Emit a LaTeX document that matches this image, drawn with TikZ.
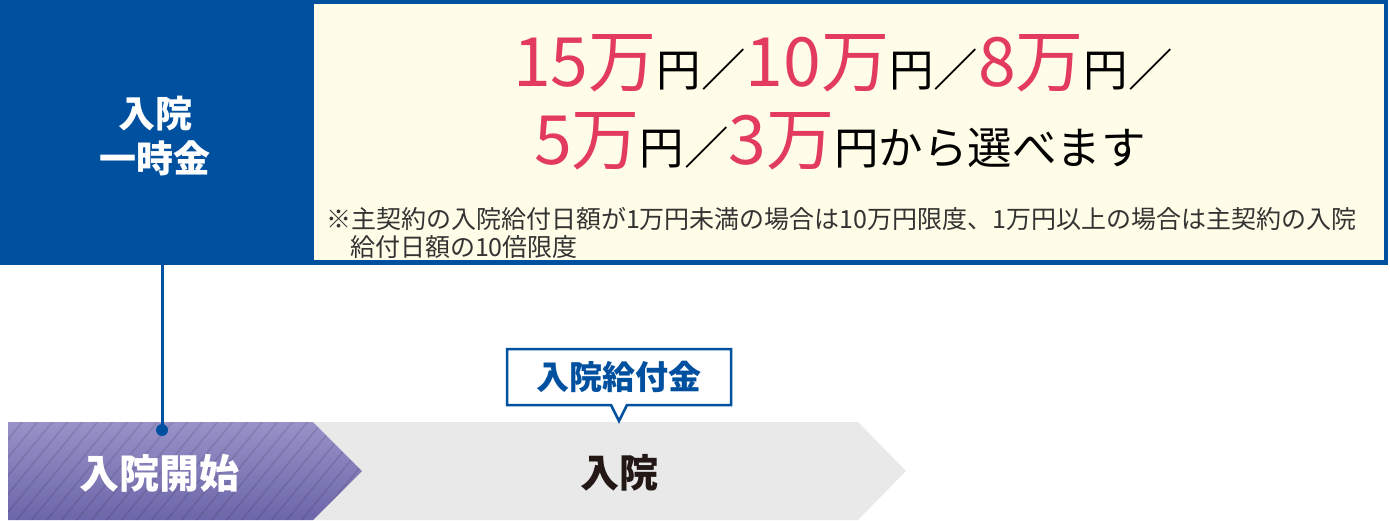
\documentclass[tikz,border=0pt]{standalone}
\usepackage{fontspec}
\setmainfont{Noto Sans CJK JP}
\usetikzlibrary{calc}
\definecolor{mainblue}{HTML}{0050A0}
\definecolor{pinkred}{HTML}{E23B5E}
\definecolor{paleyellow}{HTML}{FFFDE7}
\definecolor{arrowgray}{HTML}{E9E9E9}
\definecolor{purpletop}{HTML}{9792C7}
\definecolor{purplebot}{HTML}{6C66AA}
\definecolor{notegray}{HTML}{333333}
\definecolor{darktext}{HTML}{231815}
\newcommand\myPk[1]{{\color{pinkred}\fontsize{68}{68}\selectfont #1}}
\newcommand\mySm[1]{{\fontsize{44.5}{44.5}\selectfont #1}}
\tikzset{
  plain/.style={inner sep=0pt, outer sep=0pt},
  stripe/.style={draw=black, draw opacity=0.1, line width=1.6pt},
}
\begin{document}
\begin{tikzpicture}[x=1pt,y=-1pt]
\useasboundingbox (0,0) rectangle (1390,520);
% top frame
\node[plain, fill=mainblue, minimum width=1388pt, minimum height=265pt, anchor=north west] (frame) at (0,0) {};
\node[plain, fill=paleyellow, minimum width=1070pt, minimum height=256pt, anchor=north west] (ybox) at (314,4) {};
\node[plain, minimum width=314pt, minimum height=265pt, anchor=north west] (blk) at (0,0) {};
\node[plain, text=white, font=\fontsize{37}{45}\selectfont\bfseries, align=center] (blktxt) at (155,136) {入院\\一時金};
% main lines
\node[plain, anchor=base] (line1) at (843,86) {\myPk{15万}\mySm{円／}\myPk{10万}\mySm{円／}\myPk{8万}\mySm{円／}};
\node[plain, anchor=base] (line2) at (840,164) {\myPk{5万}\mySm{円／}\myPk{3万}\mySm{円から選べます}};
% note
\node[plain, anchor=base west, text=notegray, font=\fontsize{25}{28}\selectfont] (note1) at (326,228) {※主契約の入院給付日額が1万円未満の場合は10万円限度、1万円以上の場合は主契約の入院};
\node[plain, anchor=base west, text=notegray, font=\fontsize{25}{28}\selectfont] (note2) at (350,256) {給付日額の10倍限度};
% bottom arrows
\coordinate (gA) at (313,422);
\coordinate (gB) at (858,422);
\coordinate (gC) at (906,471);
\coordinate (gD) at (858,520);
\coordinate (gE) at (313,520);
\fill[arrowgray] (gA) -- (gB) -- (gC) -- (gD) -- (gE) -- cycle;
\coordinate (pA) at (8,422);
\coordinate (pB) at (313,422);
\coordinate (pC) at (362,471);
\coordinate (pD) at (313,520);
\coordinate (pE) at (8,520);
\shade[top color=purpletop, bottom color=purplebot] (pA) -- (pB) -- (pC) -- (pD) -- (pE) -- cycle;
\begin{scope}
  \clip (pA) -- (pB) -- (pC) -- (pD) -- (pE) -- cycle;
  \foreach \i in {-8,...,26} {
    \draw[stripe] (\i*15,522) -- ++(84,-102);
  }
\end{scope}
\node[plain, text=white, font=\fontsize{40}{40}\selectfont\bfseries] (start) at (159,473) {入院開始};
\node[plain, text=darktext, font=\fontsize{39}{39}\selectfont\bfseries] (stay) at (619,473) {入院};
% connector
\node[circle, fill=mainblue, minimum size=12pt, inner sep=0pt] (dot) at (162,430) {};
\draw[mainblue, line width=3pt] (blk.south -| dot) -- (dot.center);
% callout
\coordinate (cA) at (507,349);
\coordinate (cB) at (731,349);
\coordinate (cC) at (731,405);
\coordinate (cD) at (627,405);
\coordinate (cT) at (619,421);
\coordinate (cE) at (611,405);
\coordinate (cF) at (507,405);
\draw[mainblue, line width=2.5pt, fill=white, line join=miter] (cA) -- (cB) -- (cC) -- (cD) -- (cT) -- (cE) -- (cF) -- cycle;
\node[plain, text=mainblue, font=\fontsize{33}{33}\selectfont\bfseries] (benefit) at (619,377) {入院給付金};
\end{tikzpicture}
\end{document}
